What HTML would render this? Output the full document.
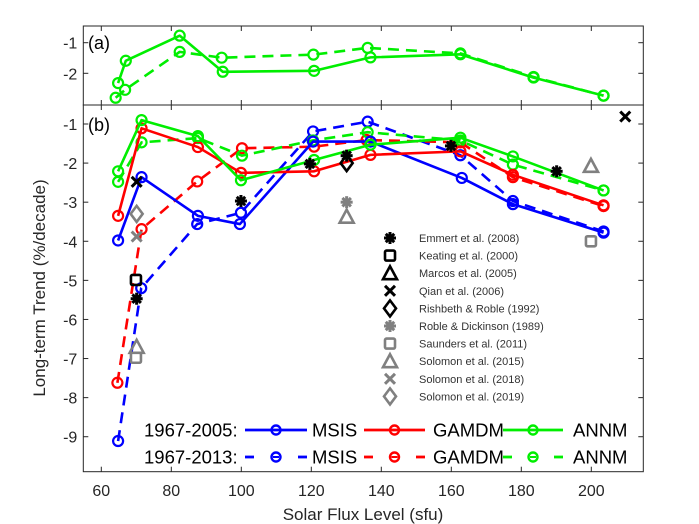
<!DOCTYPE html>
<html><head><meta charset="utf-8"><style>
body{margin:0;background:#fff}
svg{display:block;font-family:"Liberation Sans",Arial,sans-serif}
</style></head><body>
<svg id="chart" width="699" height="524" viewBox="0 0 699 524" xmlns="http://www.w3.org/2000/svg"></svg>
<script>
const xTicks=[60,80,100,120,140,160,180,200];
const yTicksA=[-1,-2];
const yTicksB=[-1,-2,-3,-4,-5,-6,-7,-8,-9];
// panel (a) ANNM
const aSolidX=[64.8,67,82.4,94.7,120.8,136.9,162.6,183.5,203.5];
const aSolidY=[-2.32,-1.59,-0.77,-1.95,-1.92,-1.48,-1.38,-2.14,-2.73];
const aDashX=[64.1,66.8,82.4,94.4,120.6,136.1,162.6,183.5,203.5];
const aDashY=[-2.8,-2.54,-1.3,-1.49,-1.39,-1.17,-1.35,-2.12,-2.73];
// panel (b)
const msisSolidX=[64.8,71.5,87.6,99.6,120.5,136.9,163,177.6,203.5];
const msisSolidY=[-3.98,-2.36,-3.35,-3.56,-1.45,-1.45,-2.38,-3.05,-3.78];
const msisDashX=[64.8,71.4,87.4,99.9,120.5,136.1,162.6,177.6,203.5];
const msisDashY=[-9.11,-5.2,-3.56,-3.27,-1.19,-0.94,-1.8,-2.97,-3.75];
const gamSolidX=[64.8,71.5,87.6,99.9,120.8,136.9,162.6,177.6,203.5];
const gamSolidY=[-3.35,-1.11,-1.59,-2.25,-2.21,-1.79,-1.7,-2.3,-3.08];
const gamDashX=[64.6,71.5,87.4,100.2,120.8,135.8,162.6,177.6,203.5];
const gamDashY=[-7.62,-3.69,-2.47,-1.62,-1.58,-1.41,-1.47,-2.36,-3.1];
const annSolidX=[64.8,71.5,87.6,99.9,120.8,136.9,162.6,177.6,203.5];
const annSolidY=[-2.21,-0.9,-1.31,-2.44,-1.92,-1.53,-1.35,-1.83,-2.7];
const annDashX=[64.8,71.5,87.6,100.2,120.5,136.1,162.6,177.6,203.5];
const annDashY=[-2.48,-1.47,-1.36,-1.81,-1.42,-1.21,-1.42,-2.04,-2.7];
// reference studies
const emmertX=[70.1,99.9,119.6,130.1,159.9,190.1];
const emmertY=[-5.47,-2.97,-2.02,-1.81,-1.56,-2.21];
const keatingX=[69.9]; const keatingY=[-4.99];
const qianX=[70.1,209.7]; const qianY=[-2.48,-0.81];
const rishX=[130.1]; const rishY=[-2.0];
const robleX=[130.1]; const robleY=[-3.0];
const saundersX=[69.9,199.9]; const saundersY=[-6.98,-4.0];
const sol15X=[130.1,70.1,199.9]; const sol15Y=[-3.37,-6.7,-2.07];
const sol18X=[70.1]; const sol18Y=[-3.88];
const sol19X=[70.1]; const sol19Y=[-3.3];

const NS="http://www.w3.org/2000/svg";
const svg=document.getElementById('chart');
const L=83.3,R=643.3;
const A={top:26,bot:105};
const B={top:105,bot:471.7};
function sx(v){return 101.3+(v-60)*3.5;}
function syA(v){return 42.7+(-1-v)*30.6;}
function syB(v){return 124+(-1-v)*39.09;}
function el(tag,attrs,parent){const e=document.createElementNS(NS,tag);for(const k in attrs)e.setAttribute(k,attrs[k]);(parent||svg).appendChild(e);return e;}

const axG=el('g',{});


[A,B].forEach((P,i)=>{
  const r=el('rect',{x:L,y:P.top,width:R-L,height:P.bot-P.top,fill:'none',stroke:'#262626','stroke-width':1},axG);
  
  
  xTicks.forEach(t=>{
    el('line',{x1:sx(t),x2:sx(t),y1:P.bot,y2:P.bot-5,stroke:'#262626'},axG);
    el('line',{x1:sx(t),x2:sx(t),y1:P.top,y2:P.top+5,stroke:'#262626'},axG);
  });
});
yTicksA.forEach(t=>{
  const y=syA(t);
  el('line',{x1:L,x2:L+5,y1:y,y2:y,stroke:'#262626'},axG);
  el('line',{x1:R,x2:R-5,y1:y,y2:y,stroke:'#262626'},axG);
  const tx=el('text',{x:L-6,y:y+6,'text-anchor':'end','font-size':16,fill:'#262626'},axG);
  tx.textContent=t;
  
  
});
yTicksB.forEach(t=>{
  const y=syB(t);
  el('line',{x1:L,x2:L+5,y1:y,y2:y,stroke:'#262626'},axG);
  el('line',{x1:R,x2:R-5,y1:y,y2:y,stroke:'#262626'},axG);
  const tx=el('text',{x:L-6,y:y+6,'text-anchor':'end','font-size':16,fill:'#262626'},axG);
  tx.textContent=t;
  
  
});
xTicks.forEach(t=>{
  const tx=el('text',{x:sx(t),y:496,'text-anchor':'middle','font-size':16,fill:'#262626'},axG);
  tx.textContent=t;
  
  
});
let t1=el('text',{x:88,y:49,'font-size':18,fill:'#000'});t1.textContent='(a)';


let t2=el('text',{x:88,y:131,'font-size':18,fill:'#000'});t2.textContent='(b)';


let xt=el('text',{x:363,y:520,'text-anchor':'middle','font-size':17,fill:'#262626'});xt.textContent='Solar Flux Level (sfu)';


let yt=el('text',{x:0,y:0,'text-anchor':'middle','font-size':17,fill:'#262626',transform:'translate(45,288) rotate(-90)'});yt.textContent='Long-term Trend (%/decade)';



function series(xs,ys,fy,color,dash,name){
  const g=el('g',{});
  
  
  const pts=xs.map((x,i)=>sx(x)+','+fy(ys[i])).join(' ');
  el('polyline',{points:pts,fill:'none',stroke:color,'stroke-width':2.6,'stroke-dasharray':dash?'11,7':'none','stroke-linejoin':'round'},g);
  xs.forEach((x,i)=>{
    const c=el('circle',{cx:sx(x),cy:fy(ys[i]),r:5,fill:'none',stroke:color,'stroke-width':2.2},g);
    
    
  });
}
const BL='#0000ff',RD='#ff0000',GR='#00ee00';
series(aDashX,aDashY,syA,GR,true,'annm-2013-a');
series(aSolidX,aSolidY,syA,GR,false,'annm-2005-a');
series(msisDashX,msisDashY,syB,BL,true,'msis-2013');
series(gamDashX,gamDashY,syB,RD,true,'gamdm-2013');
series(annDashX,annDashY,syB,GR,true,'annm-2013');
series(msisSolidX,msisSolidY,syB,BL,false,'msis-2005');
series(gamSolidX,gamSolidY,syB,RD,false,'gamdm-2005');
series(annSolidX,annSolidY,syB,GR,false,'annm-2005');

function marker(type,x,y,color,g){
  const w=2.6;
  if(type==='ast'){
    for(let a=0;a<4;a++){const ang=a*Math.PI/4;const dx=6*Math.cos(ang),dy=6*Math.sin(ang);
      el('line',{x1:x-dx,y1:y-dy,x2:x+dx,y2:y+dy,stroke:color,'stroke-width':3},g);}
  }else if(type==='sq'){
    el('rect',{x:x-5,y:y-5,width:10,height:10,rx:1.5,fill:'none',stroke:color,'stroke-width':w},g);
  }else if(type==='tri'){
    el('polygon',{points:`${x},${y-7} ${x+7},${y+6} ${x-7},${y+6}`,fill:'none',stroke:color,'stroke-width':w},g);
  }else if(type==='x'){
    el('line',{x1:x-5,y1:y-5,x2:x+5,y2:y+5,stroke:color,'stroke-width':3},g);
    el('line',{x1:x-5,y1:y+5,x2:x+5,y2:y-5,stroke:color,'stroke-width':3},g);
  }else if(type==='dia'){
    el('polygon',{points:`${x},${y-8} ${x+6},${y} ${x},${y+8} ${x-6},${y}`,fill:'none',stroke:color,'stroke-width':w},g);
  }
}
const K='#000',G='#808080';
const refs=[
 ['emmert','ast',K,emmertX,emmertY,'Emmert et al. (2008)'],
 ['keating','sq',K,keatingX,keatingY,'Keating et al. (2000)'],
 ['marcos','tri',K,[],[],'Marcos et al. (2005)'],
 ['qian','x',K,qianX,qianY,'Qian et al. (2006)'],
 ['rishbeth','dia',K,rishX,rishY,'Rishbeth & Roble (1992)'],
 ['roble','ast',G,robleX,robleY,'Roble & Dickinson (1989)'],
 ['saunders','sq',G,saundersX,saundersY,'Saunders et al. (2011)'],
 ['solomon2015','tri',G,sol15X,sol15Y,'Solomon et al. (2015)'],
 ['solomon2018','x',G,sol18X,sol18Y,'Solomon et al. (2018)'],
 ['solomon2019','dia',G,sol19X,sol19Y,'Solomon et al. (2019)']
];
refs.forEach((r,i)=>{
  const g=el('g',{});
  
  
  r[3].forEach((x,j)=>marker(r[1],sx(x),syB(r[4][j]),r[2],g));
  const lg=el('g',{});
  
  
  const ly=238+i*17.6;
  marker(r[1],390,ly,r[2],lg);
  const t=el('text',{x:419,y:ly+4,'font-size':11,fill:'#333'},lg);
  t.textContent=r[5];
});
// bottom legend
function legRow(y,label,dash,nm){
  const g=el('g',{});
  
  
  const t=el('text',{x:144,y:y+6.5,'font-size':18.5,fill:'#000'},g);t.textContent=label;
  const items=[[BL,245,307,312,'MSIS'],[RD,364,425,433,'GAMDM'],[GR,503,563,573,'ANNM']];
  items.forEach(e=>{
    const c=(e[1]+e[2])/2;
    if(dash){
      el('line',{x1:e[1],x2:e[1]+9,y1:y,y2:y,stroke:e[0],'stroke-width':2.8},g);
      el('line',{x1:e[2]-9,x2:e[2],y1:y,y2:y,stroke:e[0],'stroke-width':2.8},g);
      el('line',{x1:c-3,x2:c+3,y1:y,y2:y,stroke:e[0],'stroke-width':2},g);
    }else{
      el('line',{x1:e[1],x2:e[2],y1:y,y2:y,stroke:e[0],'stroke-width':2.8},g);
    }
    el('circle',{cx:c,cy:y,r:4.5,fill:'none',stroke:e[0],'stroke-width':2.4},g);
    const tt=el('text',{x:e[3],y:y+6.5,'font-size':18.5,fill:'#000'},g);tt.textContent=e[4];
  });
}
legRow(430,'1967-2005:',false,'legend-1967-2005');
legRow(457,'1967-2013:',true,'legend-1967-2013');
</script>
</body></html>
